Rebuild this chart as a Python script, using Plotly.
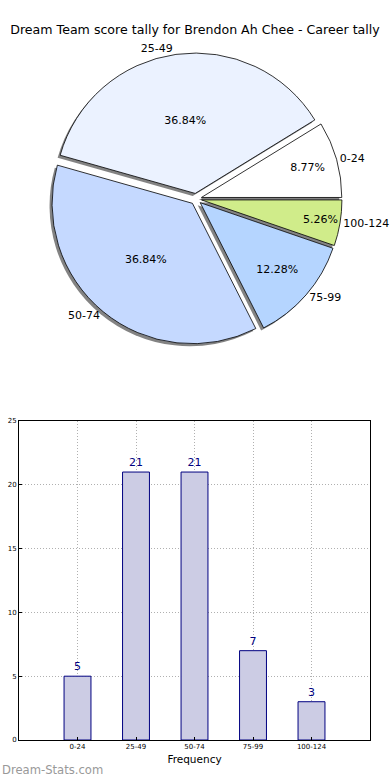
import plotly.graph_objects as go

categories = ["0-24", "25-49", "50-74", "75-99", "100-124"]
counts = [5, 21, 21, 7, 3]
pie_colors = ["#FFFFFF", "#EBF2FF", "#C5D9FF", "#B5D5FF", "#D0EC8A"]
title_text = "Dream Team score tally for Brendon Ah Chee - Career tally"

W, H = 390, 780
ML, MR, MT, MB = 19, 390 - 370, 0, 780 - 740
PW, PH = W - ML - MR, H - MT - MB

def px_x(p):
    return (p - ML) / PW

def px_y(p):
    return (H - MB - p) / PH

cx, cy, half = 196, 199, 146
dom_x = [px_x(cx - half), px_x(cx + half)]
dom_y = [px_y(cy + half), px_y(cy - half)]
sh = 2.5
shadow_x = [px_x(cx - half - sh), px_x(cx + half - sh)]
shadow_y = [px_y(cy + half + sh), px_y(cy - half + sh)]

pull = [0.04] * len(counts)
rot = 90 - 360 * counts[0] / sum(counts)
font = "DejaVu Sans"

fig = go.Figure()

fig.add_trace(go.Pie(
    labels=categories, values=counts, sort=False, direction="counterclockwise",
    rotation=rot, pull=pull, domain=dict(x=shadow_x, y=shadow_y),
    marker=dict(colors=["rgba(90,90,90,0.75)"] * 5, line=dict(width=0)),
    textinfo="none", hoverinfo="skip", showlegend=False,
))
fig.add_trace(go.Pie(
    labels=categories, values=counts, sort=False, direction="counterclockwise",
    rotation=rot, pull=pull, domain=dict(x=dom_x, y=dom_y),
    marker=dict(colors=pie_colors, line=dict(color="#000000", width=0.8)),
    texttemplate="%{percent:.2%}", textposition="inside",
    insidetextorientation="horizontal",
    textfont=dict(family=font, size=11, color="#000000"),
    showlegend=False,
))
fig.add_trace(go.Pie(
    labels=categories, values=counts, sort=False, direction="counterclockwise",
    rotation=rot, pull=pull, domain=dict(x=dom_x, y=dom_y),
    marker=dict(colors=["rgba(0,0,0,0)"] * 5, line=dict(width=0)),
    texttemplate="%{label}", textposition="outside",
    outsidetextfont=dict(family=font, size=11, color="#000000"),
    hoverinfo="skip", showlegend=False, automargin=False,
))

fig.add_trace(go.Bar(
    x=list(range(len(categories))), y=counts, width=0.46,
    marker=dict(color="#CCCCE4", line=dict(color="#000080", width=1)),
    text=[str(c) for c in counts], textposition="outside",
    textfont=dict(family=font, size=11, color="#000080"),
    cliponaxis=False, showlegend=False,
))

grid = dict(showgrid=True, gridcolor="#b0b0b0", griddash="1px,2px", gridwidth=1)

fig.update_layout(
    width=W, height=H,
    margin=dict(l=ML, r=MR, t=MT, b=MB, autoexpand=False),
    paper_bgcolor="white", plot_bgcolor="white",
    font=dict(family=font, color="#000000"),
    title=dict(text=title_text, x=195 / W, xanchor="center",
               y=1 - 30 / H, yanchor="middle", xref="container", yref="container",
               font=dict(family=font, size=12.6, color="#000000")),
    xaxis=dict(
        range=[-1, 5], tickmode="array", tickvals=list(range(len(categories))),
        ticktext=categories, tickfont=dict(family=font, size=7), automargin=False,
        showline=True, linecolor="black", linewidth=1, mirror=True,
        ticks="inside", ticklen=3, tickcolor="black", zeroline=False,
        title=dict(text="Frequency", font=dict(family=font, size=10.5), standoff=5),
        **grid,
    ),
    yaxis=dict(
        domain=[0, px_y(421)], range=[0, 25], tickvals=[0, 5, 10, 15, 20, 25],
        tickfont=dict(family=font, size=7), automargin=False,
        showline=True, linecolor="black", linewidth=1, mirror=True,
        ticks="inside", ticklen=3, tickcolor="black", zeroline=False,
        **grid,
    ),
    annotations=[dict(
        text="Dream-Stats.com", xref="paper", yref="paper",
        x=px_x(0), y=px_y(770), xanchor="left", yanchor="middle", showarrow=False,
        font=dict(family=font, size=11.6, color="#999999"),
    )],
)

fig.write_html("out.html", config={"displayModeBar": False},
               post_script="document.body.style.margin='0px';")
